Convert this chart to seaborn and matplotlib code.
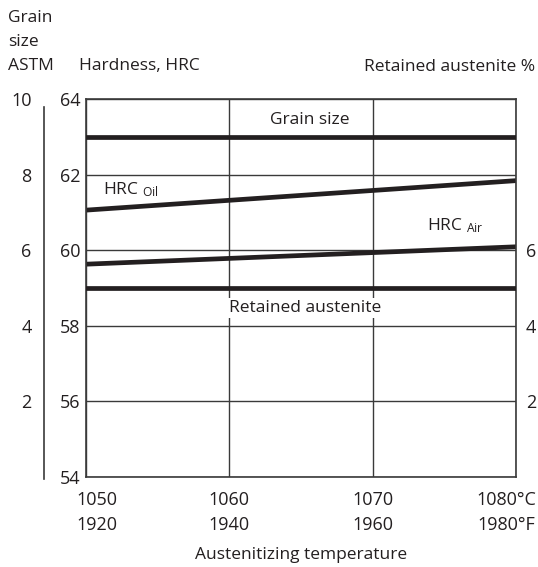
import matplotlib
matplotlib.use("Agg")
import matplotlib.pyplot as plt
import matplotlib.transforms as mtransforms
import seaborn as sns

# temperatures (deg C) at the ends of the curves
temp_c = [1050, 1080]
hrc_oil = [61.06, 61.84]
hrc_air = [59.63, 60.09]
grain_size = [9, 9]          # ASTM
retained_austenite = [5, 5]  # %

c_ticks = [1050, 1060, 1070, 1080]
f_ticks = [1920, 1940, 1960, 1980]
hrc_ticks = [54, 56, 58, 60, 62, 64]
grain_ticks = [2, 4, 6, 8, 10]
ra_ticks = [2, 4, 6]

sns.set_style("white")
plt.rcParams['font.family'] = ['Open Sans', 'DejaVu Sans']
plt.rcParams['mathtext.fontset'] = 'custom'
plt.rcParams['mathtext.rm'] = 'Open Sans'
plt.rcParams['mathtext.it'] = 'Open Sans'

TXT = '#231f20'
LINE = '#231f20'
FS = 12.5
TFS = 13

fig = plt.figure(figsize=(5.38, 5.67), dpi=100)
ax = fig.add_axes([86 / 538, 1 - 477 / 567, 430 / 538, 378 / 567])

ax.set_xlim(1050, 1080)
ax.set_ylim(54, 64)
ax.set_xticks(c_ticks)
xlabels = [f"{c}\n{f}" for c, f in zip(c_ticks, f_ticks)]
xlabels[-1] = f"{c_ticks[-1]}°C\n{f_ticks[-1]}°F"
ax.set_xticklabels(xlabels, linespacing=1.5)
ax.set_yticks(hrc_ticks)
ax.grid(True, color='#3a3a3a', linewidth=1.0)
ax.tick_params(axis='both', length=0, labelsize=TFS, colors=TXT)
ax.tick_params(axis='x', pad=10)
ax.tick_params(axis='y', pad=4)
for s in ax.spines.values():
    s.set_color('#3a3a3a')
    s.set_linewidth(1.2)

# shift the outer x labels a little like the original
off1 = mtransforms.ScaledTranslation(11 / 100, 0, fig.dpi_scale_trans)
off2 = mtransforms.ScaledTranslation(-10 / 100, 0, fig.dpi_scale_trans)
xl = ax.get_xticklabels()
xl[0].set_transform(xl[0].get_transform() + off1)
xl[-1].set_transform(xl[-1].get_transform() + off2)

sns.lineplot(x=temp_c, y=hrc_oil, ax=ax, color=LINE, linewidth=3.4)
sns.lineplot(x=temp_c, y=hrc_air, ax=ax, color=LINE, linewidth=3.4)

# grain size axis (far left)
ax_g = ax.twinx()
ax_g.set_ylim(0, 10)
ax_g.yaxis.set_ticks_position('left')
ax_g.yaxis.set_label_position('left')
ax_g.set_yticks(grain_ticks)
ax_g.tick_params(axis='y', length=0, pad=9, labelsize=TFS, colors=TXT)
for k, s in ax_g.spines.items():
    s.set_visible(k == 'left')
ax_g.spines['left'].set_position(('axes', -42 / 430))
ax_g.spines['left'].set_bounds(-0.05, 9.8)
ax_g.spines['left'].set_color('#3a3a3a')
ax_g.spines['left'].set_linewidth(1.2)
sns.lineplot(x=temp_c, y=grain_size, ax=ax_g, color=LINE, linewidth=3.4)

# retained austenite axis (right)
ax_r = ax.twinx()
ax_r.set_ylim(0, 10)
ax_r.set_yticks(ra_ticks)
ax_r.tick_params(axis='y', length=0, pad=7, labelsize=TFS, colors=TXT)
for s in ax_r.spines.values():
    s.set_visible(False)
sns.lineplot(x=temp_c, y=retained_austenite, ax=ax_r, color=LINE, linewidth=3.4)

# curve labels
ax.text(1065.6, 63.44, "Grain size", ha='center', va='center', fontsize=FS, color=TXT)
ax.text(1051.2, 61.6, "HRC $_{\\mathrm{Oil}}$", ha='left', va='center', fontsize=FS, color=TXT)
ax.text(1073.8, 60.64, "HRC $_{\\mathrm{Air}}$", ha='left', va='center', fontsize=FS, color=TXT)
ax_r.text(1065.3, 4.47, "Retained austenite", ha='center', va='center', fontsize=FS,
          color=TXT, zorder=5,
          bbox=dict(facecolor='white', edgecolor='none', pad=1.5))

# axis titles
fig.text(8 / 538, 1 - 18 / 567, "Grain", ha='left', va='center', fontsize=FS, color=TXT)
fig.text(8 / 538, 1 - 42 / 567, "size", ha='left', va='center', fontsize=FS, color=TXT)
fig.text(8 / 538, 1 - 66 / 567, "ASTM", ha='left', va='center', fontsize=FS, color=TXT)
fig.text(79 / 538, 1 - 66 / 567, "Hardness, HRC", ha='left', va='center', fontsize=FS, color=TXT)
fig.text(535 / 538, 1 - 67 / 567, "Retained austenite %", ha='right', va='center', fontsize=FS, color=TXT)
fig.text(301 / 538, 1 - 555 / 567, "Austenitizing temperature", ha='center', va='center',
         fontsize=FS, color=TXT)

fig.savefig("out.png", dpi=100)
